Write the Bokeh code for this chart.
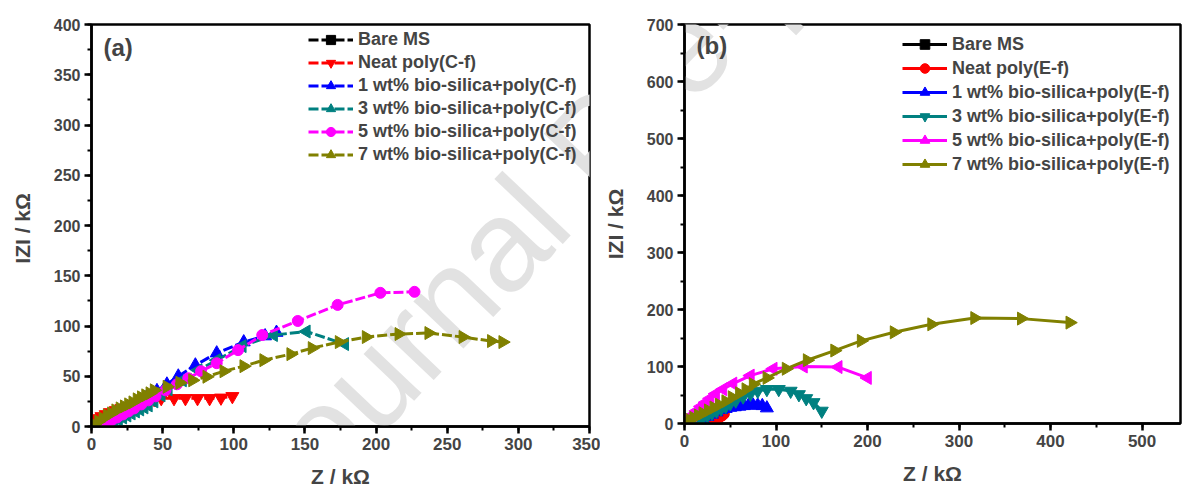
import math
from bokeh.plotting import figure
from bokeh.layouts import row
from bokeh.models import SingleIntervalTicker, Label, Range1d, Legend, LegendItem
from bokeh.embed import file_html
from bokeh.resources import INLINE

# ---------------- data: panel (a) ----------------
a_labels = ["Bare MS", "Neat poly(C-f)", "1 wt% bio-silica+poly(C-f)",
            "3 wt% bio-silica+poly(C-f)", "5 wt% bio-silica+poly(C-f)",
            "7 wt% bio-silica+poly(C-f)"]
a_bare_x = [0.5, 1.0, 1.5, 2.0, 2.5]
a_bare_y = [0.5, 1.0, 1.5, 2.0, 2.5]
a_neat_x = [0.5, 2, 4, 7, 10, 13, 17, 21, 25, 29, 34, 39, 44, 49, 58, 66, 74.5, 83, 91, 99]
a_neat_y = [4, 6, 8, 10, 12, 14, 16, 18, 20, 22, 24, 26, 27, 28, 28, 28, 28, 28, 28.5, 30]
a_1wt_x = [8, 11, 14, 17, 20, 23, 26, 29, 32, 35, 39, 46, 53, 61, 73, 88, 107, 122, 130]
a_1wt_y = [0, 2, 5, 8, 10, 13, 16, 19, 22, 25, 30, 35.5, 42, 50, 61, 73, 84, 90, 93.5]
a_3wt_x = [10, 13, 16, 19, 22, 25, 28, 31, 34, 37, 40, 44, 49, 54, 64, 75, 88, 106, 128, 151, 178]
a_3wt_y = [1, 3, 5, 7, 9, 11, 13, 15, 17, 19, 21, 25, 31, 37, 46, 56, 66, 80, 91, 94.5, 82]
a_5wt_x = [6, 10, 14, 18, 22, 26, 30, 35, 40, 45, 52, 60, 68, 77, 88, 103, 120, 145, 173, 203, 227]
a_5wt_y = [0, 3, 6, 9, 12, 15, 18, 22, 26, 30, 36, 42, 48, 55, 63, 76, 91, 105, 121, 133, 134]
a_7wt_x = [2, 5, 8, 11, 14, 17, 20, 23, 26, 29, 32, 35, 38, 41, 44, 53, 62, 71, 81, 93, 107,
           121, 140, 155, 174, 193, 216, 237, 261, 281, 289]
a_7wt_y = [2, 5, 8, 11, 13, 16, 18, 20, 22, 24, 27, 29, 31, 33, 36, 39.5, 43.5, 46, 49.5, 55, 60,
           66, 72, 78, 84, 89, 92, 93, 89, 85, 84]

# ---------------- data: panel (b) ----------------
b_labels = ["Bare MS", "Neat poly(E-f)", "1 wt% bio-silica+poly(E-f)",
            "3 wt% bio-silica+poly(E-f)", "5 wt% bio-silica+poly(E-f)",
            "7 wt% bio-silica+poly(E-f)"]
b_bare_x = [0.5, 1.0, 2.0, 3.0]
b_bare_y = [0.5, 1.0, 1.5, 2.0]
b_neat_x = [15, 20, 25, 30, 35, 38, 41, 43]
b_neat_y = [0.5, 2, 4, 6, 9, 11, 14, 17]
b_1wt_x = [12, 16, 20, 25, 30, 35, 40, 45, 50, 55, 60, 65, 70, 75, 80, 85, 90]
b_1wt_y = [1, 4, 8, 12, 16, 20, 24, 26, 28, 29, 30, 31, 32, 32, 32, 31, 27]
b_3wt_x = [10, 15, 20, 25, 30, 35, 40, 45, 50, 56, 64, 72, 80, 90, 103, 116, 125, 133, 141, 150]
b_3wt_y = [1, 5, 10, 14, 18, 22, 26, 30, 35, 40, 47, 52, 57, 60, 60, 57, 51, 44, 37, 22]
b_5wt_x = [2, 5, 9, 13, 18, 23, 28, 34, 42, 53, 72, 97, 130, 168, 200]
b_5wt_y = [4, 9, 15, 22, 30, 37, 44, 52, 60, 70, 84, 96, 100, 99, 80]
b_7wt_x = [2, 6, 10, 15, 20, 26, 32, 38, 45, 52, 60, 67, 75, 90, 111, 134, 164, 193, 229, 270,
           317, 368, 421]
b_7wt_y = [3, 6, 10, 14, 18, 23, 28, 33, 39, 46, 53, 60, 69, 80, 96, 111, 128, 145, 160, 174,
           185, 184, 177]

colors = ["#000000", "#ff0000", "#0000ff", "#008080", "#ff00ff", "#808000"]
FONT = "Liberation Sans"
WATERMARK = "Journal Pre-proof"


def style(p, xint, yint, ylab):
    p.xaxis.ticker = SingleIntervalTicker(interval=xint, num_minor_ticks=2)
    p.yaxis.ticker = SingleIntervalTicker(interval=yint, num_minor_ticks=2)
    p.xgrid.visible = False
    p.ygrid.visible = False
    p.outline_line_color = "black"
    p.outline_line_width = 2.5
    for ax in (p.xaxis[0], p.yaxis[0]):
        ax.axis_line_width = 2.5
        ax.major_tick_line_width = 2.5
        ax.minor_tick_line_width = 2
        ax.major_tick_in = 0
        ax.major_tick_out = 7
        ax.minor_tick_in = 0
        ax.minor_tick_out = 4
        ax.major_label_text_font = FONT
        ax.major_label_text_font_style = "bold"
        ax.axis_label_text_font = FONT
        ax.axis_label_text_font_style = "bold"
        ax.axis_label_text_font_size = "21px"
        ax.major_label_standoff = 4
    p.yaxis.major_label_text_font_size = "16px"
    p.xaxis.major_label_text_font_size = "17px"
    p.xaxis.axis_label = "Z / kΩ"
    p.yaxis.axis_label = ylab
    p.yaxis.axis_label_standoff = 17
    p.xaxis.axis_label_standoff = 12


def make_panel(series, labels, markers, angles, sizes, dash, xr, yr, xint, yint, ylab,
               tag, tag_dy, border_left, border_right, border_top, frame_w, frame_h,
               gx0, gbottom, leg_x, leg_top, row_h):
    p = figure(output_backend="svg", toolbar_location=None,
               x_range=Range1d(*xr), y_range=Range1d(*yr),
               frame_width=frame_w, frame_height=frame_h,
               min_border_left=border_left, min_border_right=border_right,
               min_border_top=border_top, min_border_bottom=0,
               background_fill_color="white", border_fill_color="white")
    style(p, xint, yint, ylab)

    # faint watermark beneath the data, positioned in page pixels relative to this frame
    p.add_layout(Label(x=250 - gx0, y=gbottom - 505, x_units="screen", y_units="screen",
                       text=WATERMARK, angle=46.5, angle_units="deg",
                       text_font=FONT, text_font_size="130px", text_color="#e2e2e2",
                       text_align="left", text_baseline="alphabetic", level="underlay"))

    items = []
    for (xs, ys), lab, col, mk, ang, sz in zip(series, labels, colors, markers, angles, sizes):
        r1 = p.line(xs, ys, line_color=col, line_width=3, line_dash=dash)
        r2 = p.scatter(xs, ys, marker=mk, size=sz, angle=ang, fill_color=col, line_color=col)
        items.append(LegendItem(label=lab, renderers=[r1, r2]))

    n = len(items)
    leg_h = n * row_h
    leg = Legend(items=items, location=(leg_x, frame_h - leg_top - leg_h), padding=0, margin=0,
                 spacing=0, glyph_width=45, glyph_height=row_h, label_height=20,
                 label_standoff=5, border_line_alpha=0, background_fill_alpha=0,
                 label_text_font=FONT, label_text_font_style="bold",
                 label_text_font_size="18px")
    p.add_layout(leg)

    p.add_layout(Label(x=12, y=frame_h - tag_dy, x_units="screen", y_units="screen", text=tag,
                       text_font=FONT, text_font_style="bold", text_font_size="24px",
                       text_baseline="middle", text_align="left"))
    return p


a_series = [(a_bare_x, a_bare_y), (a_neat_x, a_neat_y), (a_1wt_x, a_1wt_y),
            (a_3wt_x, a_3wt_y), (a_5wt_x, a_5wt_y), (a_7wt_x, a_7wt_y)]
b_series = [(b_bare_x, b_bare_y), (b_neat_x, b_neat_y), (b_1wt_x, b_1wt_y),
            (b_3wt_x, b_3wt_y), (b_5wt_x, b_5wt_y), (b_7wt_x, b_7wt_y)]

pa = make_panel(a_series, a_labels,
                ["square", "inverted_triangle", "triangle", "triangle", "circle", "triangle"],
                [0, 0, 0, math.pi / 2, 0, -math.pi / 2],
                [8, 13, 13, 13, 11, 13], "10 3",
                (0, 350), (0, 400), 50, 50, "IZI  / kΩ", "(a)", 23,
                91, 11, 22, 498, 402, 91, 424,
                217, 3.5, 23)

pb = make_panel(b_series, b_labels,
                ["square", "circle", "triangle", "inverted_triangle", "triangle", "triangle"],
                [0, 0, 0, 0, math.pi / 2, -math.pi / 2],
                [8, 11, 13, 13, 13, 13], "solid",
                (0, 542), (0, 700), 100, 100, "IZI / kΩ", "(b)", 21,
                84, 6, 24, 496, 399, 684, 423,
                218, 8.3, 24)

layout = row(pa, pb)
open("out.html", "w").write(file_html(layout, INLINE))
